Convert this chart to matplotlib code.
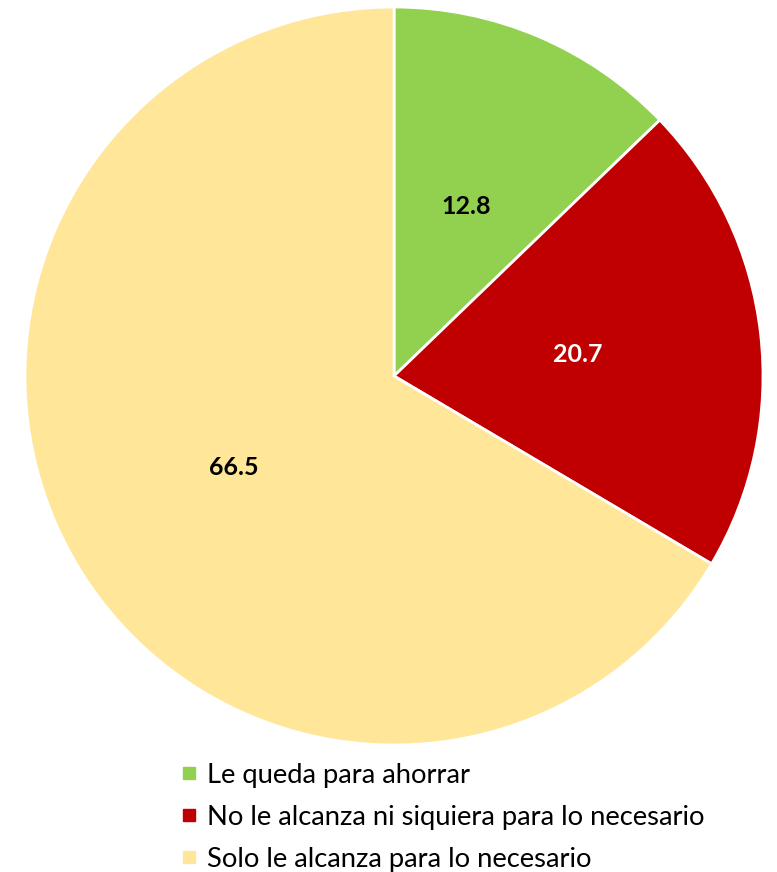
import matplotlib
matplotlib.use("Agg")
import matplotlib.pyplot as plt
from matplotlib.lines import Line2D

categories = ["Le queda para ahorrar",
              "No le alcanza ni siquiera para lo necesario",
              "Solo le alcanza para lo necesario"]
values = [12.8, 20.7, 66.5]
colors = ["#92D050", "#C00000", "#FFE699"]
label_colors = ["black", "white", "black"]

plt.rcParams['font.family'] = ['Lato', 'DejaVu Sans']

W, H = 777, 872
fig = plt.figure(figsize=(W / 100, H / 100), dpi=100)
cx, cy, r = 394, 376, 369
ax = fig.add_axes([(cx - r) / W, (H - cy - r) / H, 2 * r / W, 2 * r / H])

wedges, texts, autotexts = ax.pie(
    values, colors=colors, startangle=90, counterclock=False, radius=1,
    autopct=lambda p: f"{p:.1f}", pctdistance=0.5,
    wedgeprops=dict(edgecolor='white', linewidth=2),
    textprops=dict(fontsize=18, fontweight='bold'))
for t, c, v in zip(autotexts, label_colors, values):
    t.set_text(f"{v:.1f}")
    t.set_color(c)
ax.set_xlim(-1, 1)
ax.set_ylim(-1, 1)
ax.set_aspect('equal')
ax.axis('off')

handles = [Line2D([], [], marker='s', linestyle='none', markersize=8.5,
                  markerfacecolor=c, markeredgecolor=c) for c in colors]
fig.legend(handles, categories, loc='upper left',
           bbox_to_anchor=(181 / W, 1 - 763 / H), frameon=False,
           fontsize=19.7, handlelength=0.55, handletextpad=0.4,
           labelspacing=0.62, borderpad=0, borderaxespad=0)

fig.savefig("out.png", dpi=100)
